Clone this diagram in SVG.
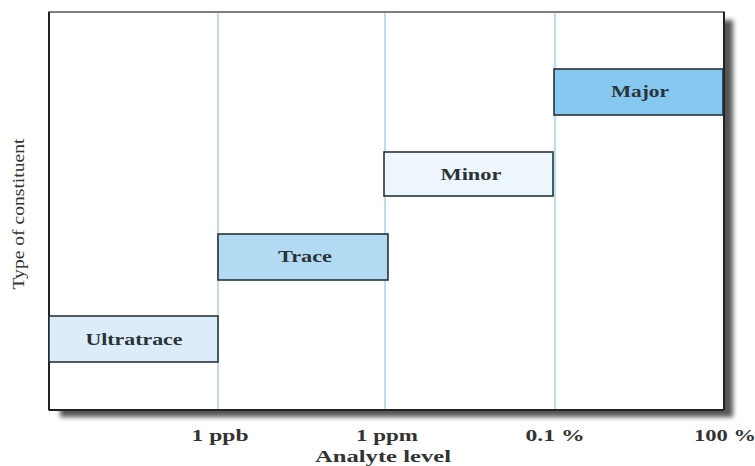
<svg xmlns="http://www.w3.org/2000/svg" width="755" height="466" viewBox="0 0 755 466">
<defs>
<filter id="blur" x="-5%" y="-5%" width="110%" height="110%"><feGaussianBlur stdDeviation="2.5"/></filter>
<style>
.box{stroke:#26343a;stroke-width:1.6}
.grid{stroke:#a9d3ea;stroke-width:1.5}
.lbl{font-family:"Liberation Serif","Times New Roman",serif;font-size:17px;font-weight:bold;fill:#2a3338;text-anchor:middle}
.tick{font-family:"Liberation Serif","Times New Roman",serif;font-size:17px;font-weight:bold;fill:#333;text-anchor:middle}
</style>
</defs>
<rect width="755" height="466" fill="#fff"/>
<g id="frame">
<rect x="60" y="20" width="673" height="397" fill="#555" filter="url(#blur)"/>
<rect x="49" y="12" width="675" height="398" fill="#fff" stroke="#555" stroke-width="1.5"/>
<line x1="49" y1="12" x2="49" y2="410" stroke="#222" stroke-width="2"/>
<line x1="49" y1="410" x2="724" y2="410" stroke="#222" stroke-width="2"/>
<line x1="724" y1="12" x2="724" y2="410" stroke="#222" stroke-width="2"/>
</g>
<g id="gridlines">
<line class="grid" x1="218" y1="13" x2="218" y2="409"/>
<line class="grid" x1="385" y1="13" x2="385" y2="409"/>
<line class="grid" x1="555" y1="13" x2="555" y2="409"/>
</g>
<g id="ultratrace">
<rect class="box" x="49" y="316" width="169" height="46" fill="#dcedf9"/>
<text class="lbl" x="134" y="345" textLength="97" lengthAdjust="spacingAndGlyphs">Ultratrace</text>
</g>
<g id="trace">
<rect class="box" x="218" y="234" width="170" height="46" fill="#b2dbf3"/>
<text class="lbl" x="305" y="262" textLength="54" lengthAdjust="spacingAndGlyphs">Trace</text>
</g>
<g id="minor">
<rect class="box" x="384" y="152" width="169" height="44" fill="#eef6fd"/>
<text class="lbl" x="471" y="180" textLength="61" lengthAdjust="spacingAndGlyphs">Minor</text>
</g>
<g id="major">
<rect class="box" x="554" y="69" width="169" height="46" fill="#86c8ef"/>
<text class="lbl" x="640" y="97" textLength="58" lengthAdjust="spacingAndGlyphs">Major</text>
</g>
<g id="axis-labels">
<text class="tick" x="220" y="441" textLength="57" lengthAdjust="spacingAndGlyphs">1 ppb</text>
<text class="tick" x="387" y="441" textLength="62" lengthAdjust="spacingAndGlyphs">1 ppm</text>
<text class="tick" x="555" y="441" textLength="59" lengthAdjust="spacingAndGlyphs">0.1 %</text>
<text class="tick" x="725" y="441" textLength="62" lengthAdjust="spacingAndGlyphs">100 %</text>
<text class="tick" x="383" y="462" textLength="136" lengthAdjust="spacingAndGlyphs">Analyte level</text>
<text x="0" y="0" transform="translate(24,214) rotate(-90)" font-family="'Liberation Serif','Times New Roman',serif" font-size="17" fill="#333" text-anchor="middle" textLength="151" lengthAdjust="spacingAndGlyphs">Type of constituent</text>
</g>
</svg>
